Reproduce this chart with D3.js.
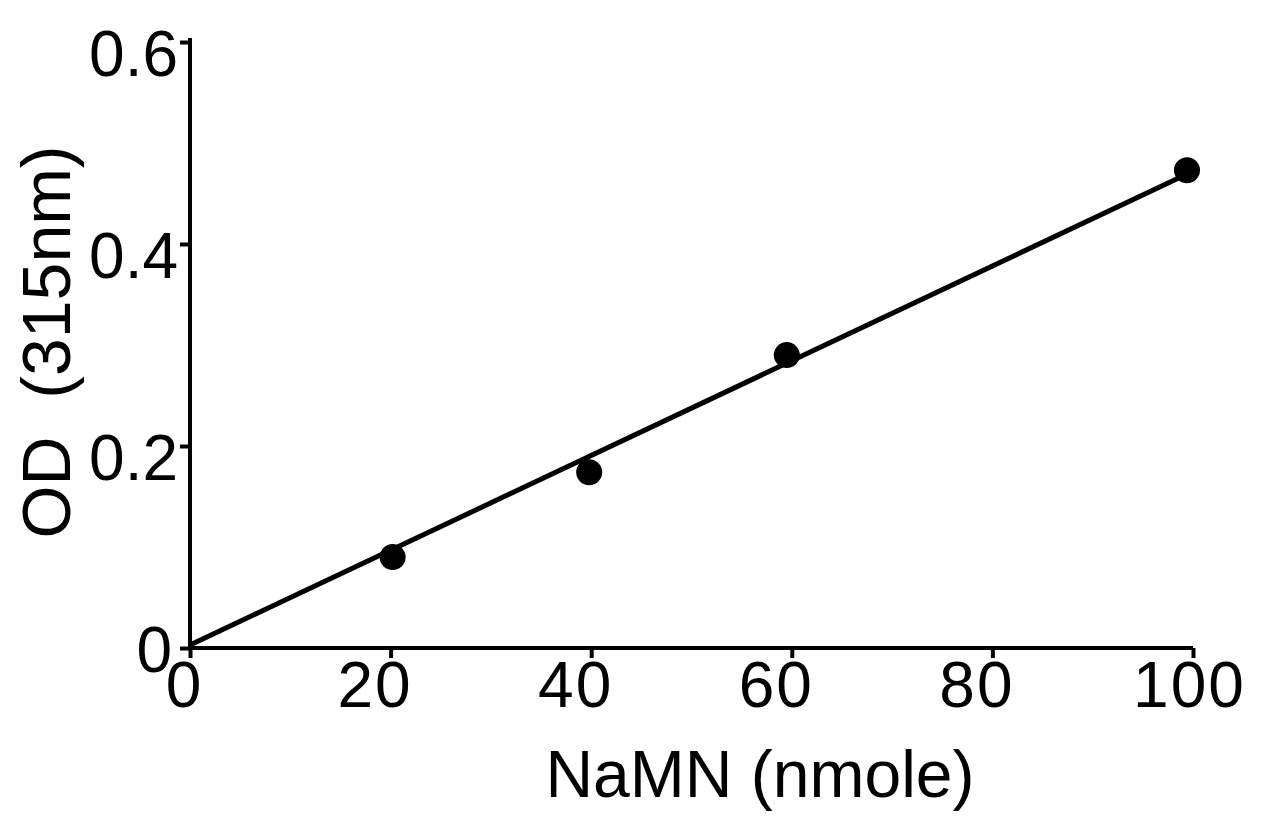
<!DOCTYPE html>
<html>
<head>
<meta charset="utf-8">
<script src="https://cdn.jsdelivr.net/npm/d3@7"></script>
<style>
  body { margin: 0; background: #fff; }
  text { font-family: "Liberation Sans", Arial, sans-serif; fill: #000; }
</style>
</head>
<body>
<div id="chart"></div>
<script>
// measured points
const namn = [20.2, 39.8, 59.5, 99.4];
const od = [0.090, 0.174, 0.290, 0.473];
// fitted line end points
const fitX = [0, 100];
const fitY = [0.003, 0.472];
const xTicks = [0, 20, 40, 60, 80, 100];
const yTicks = [0, 0.2, 0.4, 0.6];
const yTickLabels = ["0", "0.2", "0.4", "0.6"];

const width = 1265, height = 821;
const svg = d3.select('#chart').append('svg')
  .attr('width', width)
  .attr('height', height);

const x = d3.scaleLinear().domain([0, 100]).range([190, 1193]);
const y = d3.scaleLinear().domain([0, 0.6]).range([648, 42]);

// x axis
const xAxis = svg.append('g')
  .attr('transform', `translate(0, ${y(0)})`)
  .call(d3.axisBottom(x).tickValues(xTicks).tickSize(10).tickSizeOuter(0).tickPadding(4));
xAxis.select('.domain').attr('stroke-width', 4).attr('d', `M${x(0)},0H${x(100)}`);
xAxis.selectAll('.tick line').attr('stroke-width', 4);
xAxis.selectAll('.tick text')
  .style('font-size', '64px')
  .style('letter-spacing', '2px')
  .attr('dx', d => d === 0 ? -6 : d === 100 ? -4 : -16);

// y axis
const yAxis = svg.append('g')
  .attr('transform', `translate(${x(0)}, 0)`)
  .call(d3.axisLeft(y).tickValues(yTicks).tickFormat((d, i) => yTickLabels[i]).tickSize(10).tickSizeOuter(0).tickPadding(2));
yAxis.select('.domain').attr('stroke-width', 4).attr('d', `M0,${y(0) + 2}V${y(0.6) - 4}`);
yAxis.selectAll('.tick line').attr('stroke-width', 4);
yAxis.selectAll('.tick text')
  .style('font-size', '64px')
  .attr('dy', d => d === 0 ? '0.36em' : '0.52em')
  .attr('dx', d => d === 0 ? -6 : 0);

// fitted line
const line = d3.line().x(d => x(d[0])).y(d => y(d[1]));
svg.append('path')
  .datum(d3.zip(fitX, fitY))
  .attr('d', line)
  .attr('fill', 'none')
  .attr('stroke', '#000')
  .attr('stroke-width', 5);

// points
svg.selectAll('circle.pt')
  .data(d3.zip(namn, od))
  .join('circle')
  .attr('class', 'pt')
  .attr('cx', d => x(d[0]))
  .attr('cy', d => y(d[1]))
  .attr('r', 13)
  .attr('fill', '#000');

// axis titles
svg.append('text')
  .attr('x', 760)
  .attr('y', 797)
  .attr('text-anchor', 'middle')
  .style('font-size', '66px')
  .text('NaMN (nmole)');

svg.append('text')
  .attr('transform', 'translate(70, 342) rotate(-90)')
  .attr('text-anchor', 'middle')
  .style('font-size', '68px')
  .style('white-space', 'pre')
  .text('OD  (315nm)');
</script>
</body>
</html>
